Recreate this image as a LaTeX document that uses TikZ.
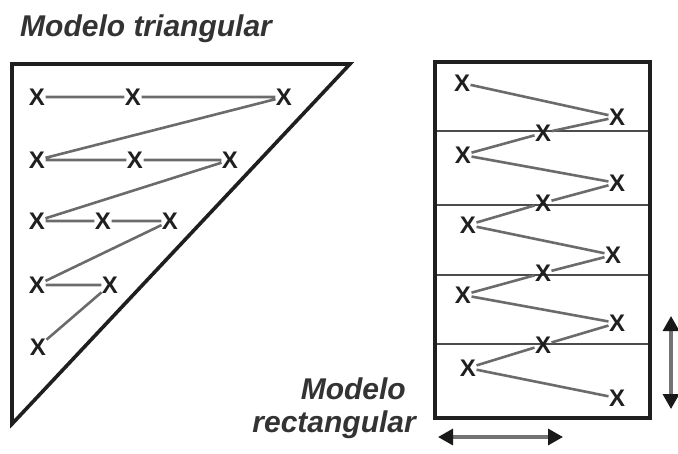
\documentclass[tikz,border=0pt]{standalone}
\usepackage{fontspec}
\setmainfont{Liberation Sans}
\newfontfamily\xfont{Liberation Sans Bold}
\usetikzlibrary{arrows.meta}
\begin{document}
\begin{tikzpicture}[x=1pt,y=-1pt,
  xm/.style={inner sep=0.3pt,font=\xfont\fontsize{24}{24}\selectfont,text=black!88},
  zig/.style={draw=black!58,line width=2.6pt},
  frame/.style={draw=black!88,line width=3.6pt,line join=miter},
  divider/.style={draw=black!70,line width=2.8pt},
  lab/.style={font=\fontsize{30}{30}\selectfont\bfseries\itshape,text=black!80,inner sep=0pt},
  dblarrow/.style={draw=black!55,line width=3.2pt,{Triangle[length=15pt,width=16pt,fill=black!90,color=black!90]}-{Triangle[length=15pt,width=16pt,fill=black!90,color=black!90]}}
]
\useasboundingbox (0,0) rectangle (678,453);
% labels
\node[lab,anchor=base west] (t1) at (20,36) {Modelo triangular};
\node[lab,anchor=base east] (t2) at (406,399) {Modelo};
\node[lab,anchor=base east] (t3) at (416,432) {rectangular};
% triangle
\draw[frame] (12,64) -- (350,64) -- (12,424) -- cycle;
% triangle X marks
\node[xm] (a1) at (37,97) {X};
\node[xm] (a2) at (133,97) {X};
\node[xm] (a3) at (284,97) {X};
\node[xm] (b1) at (37,160) {X};
\node[xm] (b2) at (135,160) {X};
\node[xm] (b3) at (230,160) {X};
\node[xm] (c1) at (37,221) {X};
\node[xm] (c2) at (103,221) {X};
\node[xm] (c3) at (170,221) {X};
\node[xm] (d1) at (37,285) {X};
\node[xm] (d2) at (110,285) {X};
\node[xm] (e1) at (38,347) {X};
\draw[zig] (a1) -- (a2) -- (a3) -- (b1) -- (b2) -- (b3) -- (c1) -- (c2) -- (c3) -- (d1) -- (d2) -- (e1);
% rectangle
\draw[divider] (435,131) -- (650,131);
\draw[divider] (435,205) -- (650,205);
\draw[divider] (435,275) -- (650,275);
\draw[divider] (435,344) -- (650,344);
\draw[frame] (435,62) rectangle (650,418);
% rectangle X marks
\node[xm] (r1) at (462,83) {X};
\node[xm] (r2) at (617,117) {X};
\node[xm] (m1) at (543,133) {X};
\node[xm] (r3) at (463,155) {X};
\node[xm] (r4) at (617,183) {X};
\node[xm] (m2) at (543,203) {X};
\node[xm] (r5) at (468,225) {X};
\node[xm] (r6) at (613,255) {X};
\node[xm] (m3) at (543,273) {X};
\node[xm] (r7) at (463,295) {X};
\node[xm] (r8) at (617,323) {X};
\node[xm] (m4) at (543,345) {X};
\node[xm] (r9) at (468,368) {X};
\node[xm] (r10) at (617,398) {X};
\draw[zig] (r1) -- (r2) -- (m1) -- (r3) -- (r4) -- (m2) -- (r5) -- (r6) -- (m3) -- (r7) -- (r8) -- (m4) -- (r9) -- (r10);
% arrows
\coordinate (v1) at (671,316);
\coordinate (v2) at (671,409);
\coordinate (h1) at (438,437);
\coordinate (h2) at (563,437);
\draw[dblarrow] (v1) -- (v2);
\draw[dblarrow] (h1) -- (h2);
\end{tikzpicture}
\end{document}
